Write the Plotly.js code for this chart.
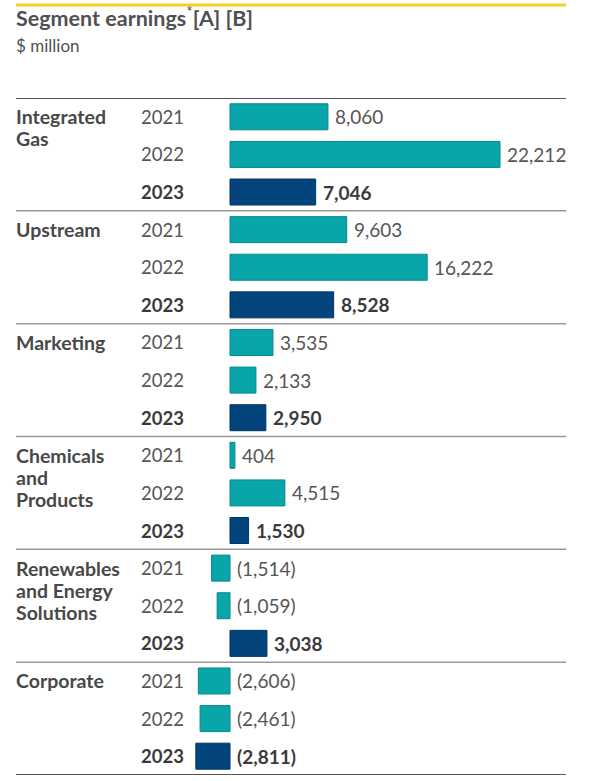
<!DOCTYPE html>
<html><head><meta charset="utf-8">
<script src="https://cdn.plot.ly/plotly-3.0.1.min.js"></script>
<style>html,body{margin:0;padding:0;background:#fff}#c{width:608px;height:781px}</style>
</head><body><div id="c"></div>
<script>
var segments = ["Integrated<br>Gas", "Upstream", "Marketing", "Chemicals<br>and<br>Products", "Renewables<br>and Energy<br>Solutions", "Corporate"];
var years = ["2021", "2022", "2023"];
var integratedGas = [8060, 22212, 7046];
var upstream = [9603, 16222, 8528];
var marketing = [3535, 2133, 2950];
var chemicals = [404, 4515, 1530];
var renewables = [-1514, -1059, 3038];
var corporate = [-2606, -2461, -2811];
var seriesBySegment = [integratedGas, upstream, marketing, chemicals, renewables, corporate];

var W = 608, H = 781, L = 16, R = 566, T = 98, B = 775;
var zeroPx = 230, refPx = 500, refVal = 22212;
var ppu = (refPx - zeroPx) / refVal;
var xmin = -(zeroPx - L) / ppu, xmax = (R - zeroPx) / ppu;
var nRows = segments.length * years.length;
var rowH = (B - T) / nRows;
function py(p){ return 1 + (T - p) / (B - T); }

var FONT = "Lato, 'Open Sans', sans-serif";
var teal = "#08a5a9", navy = "#02447b";

var ys = [], xs = [], cols = [], lcols = [];
seriesBySegment.forEach(function(vals, g){
  vals.forEach(function(v, i){
    ys.push(g * 3 + i); xs.push(v);
    cols.push(i === 2 ? navy : teal);
    lcols.push(i === 2 ? "#013563" : "#06898d");
  });
});

function fmt(v){
  var s = Math.abs(v).toString().replace(/\B(?=(\d{3})+(?!\d))/g, ",");
  return v < 0 ? "(" + s + ")" : s;
}

var annotations = [];
var shapes = [];
seriesBySegment.forEach(function(vals, g){
  segments[g].split("<br>").forEach(function(line, k){
    annotations.push({x: 0, xref: "paper", xanchor: "left", xshift: -2, y: g * 3, yref: "y", yanchor: "middle", yshift: -22 * k,
      text: "<b>" + line + "</b>", showarrow: false, align: "left",
      font: {family: FONT, size: 19.5, color: "#484848"}});
  });
  vals.forEach(function(v, i){
    var bold = i === 2;
    annotations.push({x: (140 - L) / (R - L), xref: "paper", xanchor: "left", xshift: -1, y: g * 3 + i, yref: "y",
      text: bold ? "<b>" + years[i] + "</b>" : years[i], showarrow: false,
      font: {family: FONT, size: 18.5, color: bold ? "#3a3a3a" : "#555"}});
    annotations.push({x: Math.max(v, 0), xref: "x", xanchor: "left", xshift: 5, y: g * 3 + i, yref: "y",
      text: bold ? "<b>" + fmt(v) + "</b>" : fmt(v), showarrow: false,
      font: {family: FONT, size: 19, color: bold ? "#3a3a3a" : "#555"}});
  });
  if (g > 0) shapes.push({type: "line", xref: "paper", x0: 0, x1: 1, yref: "y", y0: g * 3 - 0.5, y1: g * 3 - 0.5,
    line: {color: "#9a9a9a", width: 1.5}});
});
shapes.push({type: "line", xref: "paper", x0: 0, x1: 1, yref: "y", y0: -0.5, y1: -0.5, line: {color: "#555", width: 2}});
shapes.push({type: "line", xref: "paper", x0: 0, x1: 1, yref: "y", y0: nRows - 0.5, y1: nRows - 0.5, line: {color: "#555", width: 2}});
shapes.push({type: "line", xref: "paper", x0: 0, x1: 1, yref: "paper", y0: py(5), y1: py(5), line: {color: "#f6cf1e", width: 3}});

annotations.push({x: 0, xref: "paper", xanchor: "left", xshift: -2, y: py(33), yref: "paper", yanchor: "bottom",
  text: "<b>Segment earnings</b><sup>*</sup><b>[A] [B]</b>", showarrow: false,
  font: {family: FONT, size: 21.5, color: "#505050"}});
annotations.push({x: 0, xref: "paper", xanchor: "left", xshift: -2, y: py(45), yref: "paper", yanchor: "middle",
  text: "$ million", showarrow: false, font: {family: FONT, size: 17, color: "#505050"}});

var trace = {type: "bar", orientation: "h", x: xs, y: ys, width: 26 / rowH,
  marker: {color: cols, line: {color: lcols, width: 1}}, hoverinfo: "skip"};

var layout = {width: W, height: H, margin: {l: L, r: W - R, t: T, b: H - B},
  paper_bgcolor: "#fff", plot_bgcolor: "#fff", showlegend: false,
  xaxis: {range: [xmin, xmax], visible: false, fixedrange: true},
  yaxis: {range: [nRows - 0.5, -0.5], visible: false, fixedrange: true},
  shapes: shapes, annotations: annotations, bargap: 0};
Plotly.newPlot("c", [trace], layout, {staticPlot: true});
</script></body></html>
